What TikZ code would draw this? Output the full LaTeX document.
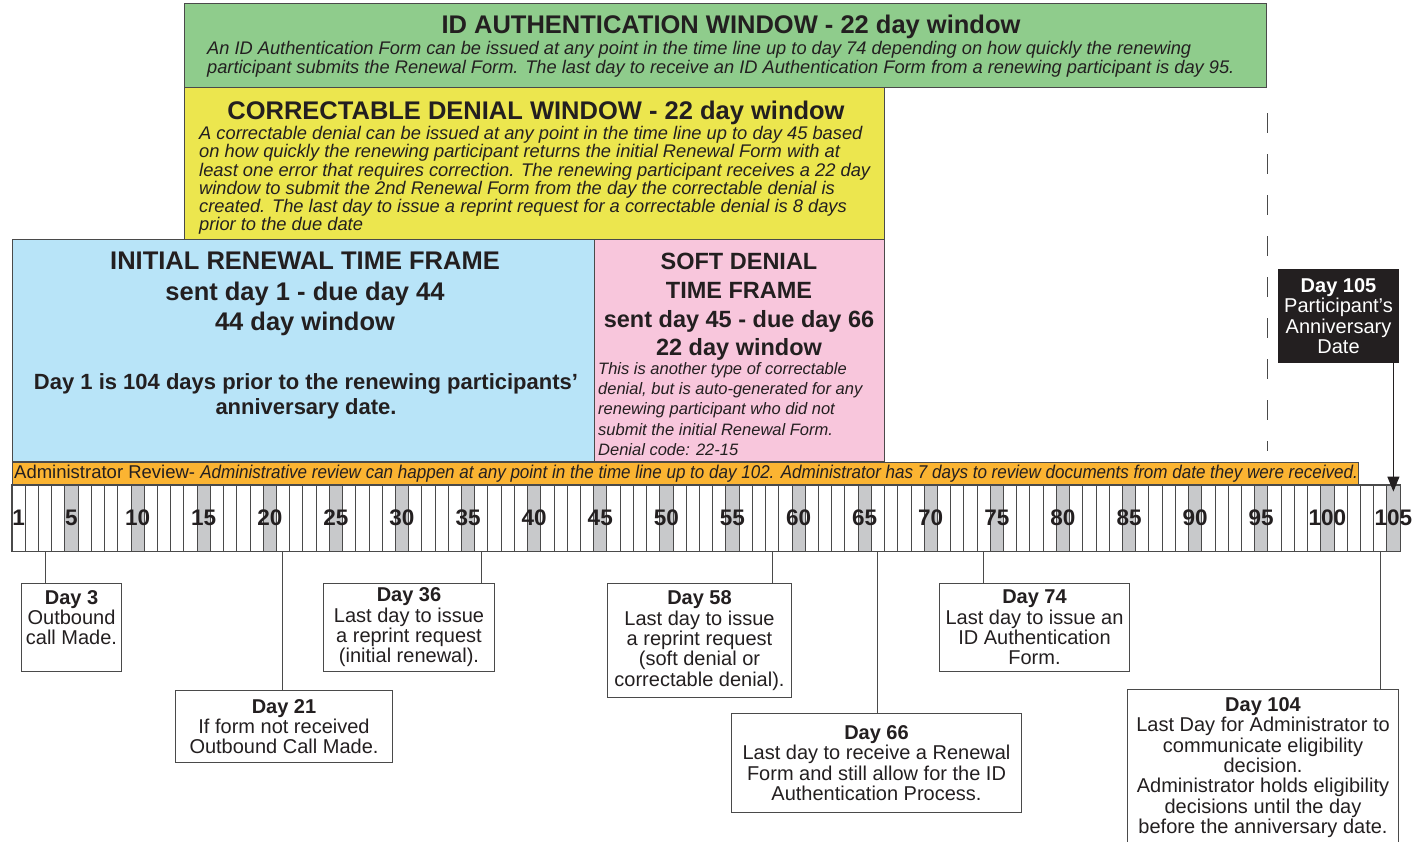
\documentclass[tikz,border=0pt]{standalone}
\usepackage{fontspec}
\usepackage{graphicx}
\setmainfont{Liberation Sans}
\usetikzlibrary{arrows.meta}
\definecolor{cAuth}{HTML}{8FCC8C}
\definecolor{cCorr}{HTML}{ECE64E}
\definecolor{cInit}{HTML}{B8E4F8}
\definecolor{cSoft}{HTML}{F8C6DC}
\definecolor{cAdmin}{HTML}{FBB432}
\definecolor{cMark}{HTML}{C8C9CB}
\definecolor{ink}{HTML}{231F20}
\definecolor{rule}{HTML}{4A4A4A}
\newcommand\fsz[2]{\fontsize{#1}{#2}\selectfont}

\begin{document}
\begin{tikzpicture}[x=1pt, y=-1pt,
  >={Triangle[width=12pt, length=15pt]},
  panel/.style={draw=rule, line width=1pt, anchor=north west, inner sep=0pt, fill=#1},
  head/.style={font=\fsz{25.5}{28}\bfseries, text=ink, inner sep=0pt},
  note/.style={anchor=west, align=left, inner sep=0pt, text=ink},
  cell/.style={draw=rule, line width=0.8pt, inner sep=0pt,
               minimum width=13.219, minimum height=66},
  daynum/.style={font=\fsz{22.5}{24}\bfseries, text=ink, inner sep=0pt},
  callout/.style={draw=rule, line width=1pt, fill=white, anchor=north west,
                  inner sep=0pt, align=center, text=ink, font=\fsz{20}{20.3}},
  link/.style={draw=rule, line width=1pt},
]
  \path[use as bounding box, fill=white] (0,0) rectangle (1412,841);

  % --- windows above the time line ---
  \node[panel=cAuth, minimum width=1082, minimum height=84] (auth) at (184,3) {};
  \node[head] (authT) at (731,26.5) {ID AUTHENTICATION WINDOW - 22 day window};
  \node[note, font=\fsz{18.25}{19}\itshape] (authB) at (207,59.5)
    {An ID Authentication Form can be issued at any point in the time line up to day 74 depending on how quickly the renewing\\
     participant submits the Renewal Form. The last day to receive an ID Authentication Form from a renewing participant is day 95.};

  \node[panel=cCorr, minimum width=700, minimum height=152] (corr) at (184,87) {};
  \node[head] (corrT) at (536,112.5) {CORRECTABLE DENIAL WINDOW - 22 day window};
  \node[note, font=\fsz{18.3}{18.2}\itshape] (corrB) at (199,180.5)
    {A correctable denial can be issued at any point in the time line up to day 45 based\\
     on how quickly the renewing participant returns the initial Renewal Form with at\\
     least one error that requires correction. The renewing participant receives a 22 day\\
     window to submit the 2nd Renewal Form from the day the correctable denial is\\
     created. The last day to issue a reprint request for a correctable denial is 8 days\\
     prior to the due date};

  \node[panel=cInit, minimum width=582, minimum height=222] (init) at (12,239) {};
  \node[align=center, inner sep=0pt, text=ink, font=\fsz{25.5}{30.5}\bfseries] (initT) at (305,294)
    {INITIAL RENEWAL TIME FRAME\\sent day 1 - due day 44\\44 day window};
  \node[align=center, inner sep=0pt, text=ink, font=\fsz{22}{25}\bfseries] (initB) at (306,396)
    {Day 1 is 104 days prior to the renewing participants'\\anniversary date.};

  \node[panel=cSoft, minimum width=290, minimum height=222] (soft) at (594,239) {};
  \node[align=center, inner sep=0pt, text=ink, font=\fsz{23.5}{28.7}\bfseries] (softT) at (739,307)
    {SOFT DENIAL\\TIME FRAME\\sent day 45 - due day 66\\22 day window};
  \node[note, font=\fsz{16.5}{20.3}\itshape] (softB) at (598,409)
    {This is another type of correctable\\denial, but is auto-generated for any\\renewing participant who did not\\submit the initial Renewal Form.\\Denial code: 22-15};

  \node[panel=cAdmin, minimum width=1346, minimum height=23] (admin) at (12,462) {};
  \node[note, font=\fsz{18.5}{20}] (adminT) at (14,474)
    {Administrator Review- \scalebox{0.92}[1]{\itshape Administrative review can happen at any point in the time line up to day 102. Administrator has 7 days to review documents from date they were received.}};

  % --- time line, one cell per day ---
  \foreach \i in {1,...,105}{
    \pgfmathtruncatemacro\m{mod(\i,5)}
    \ifnum\m=0 \def\f{cMark}\else\def\f{white}\fi
    \node[cell, fill=\f] (d\i) at ({12+(\i-0.5)*13.219},518) {};
  }
  \draw[rule, line width=1pt] (d1.north west) rectangle (d105.south east);
  \foreach \i in {1,5,10,...,105}{
    \node[daynum] (n\i) at (d\i) {\i};
  }

  % --- anniversary marker ---
  \draw[rule, line width=1pt, dash pattern=on 20pt off 21pt]
    (auth.south east) ++(0,25) -- ++(0,338);
  \node[panel=ink, draw=ink, minimum width=120, minimum height=93, align=center,
        text=white, font=\fsz{20}{20.5}] (anniv) at (1278,269)
    {\textbf{Day 105}\\Participant's\\Anniversary\\Date};
  \draw[->, ink, line width=1pt] (anniv.south -| d105) -- ([yshift=-7pt]d105.north);

  % --- call-outs below the time line ---
  \foreach \d/\px/\py/\bw/\bh/\txt in {
      3/21/583/100/88/{\textbf{Day 3}\\Outbound\\call Made.\\~},
      21/175/690/217/72/{\textbf{Day 21}\\If form not received\\Outbound Call Made.},
      36/323/583/171/88/{\textbf{Day 36}\\Last day to issue\\a reprint request\\(initial renewal).},
      58/607/583/184/114/{\textbf{Day 58}\\Last day to issue\\a reprint request\\(soft denial or\\correctable denial).},
      66/731/713/290/99/{\textbf{Day 66}\\Last day to receive a Renewal\\Form and still allow for the ID\\Authentication Process.},
      74/939/583/190/88/{\textbf{Day 74}\\Last day to issue an\\ID Authentication\\Form.},
      104/1127/689/271/156/{\textbf{Day 104}\\Last Day for Administrator to\\communicate eligibility\\decision.\\Administrator holds eligibility\\decisions until the day\\before the anniversary date.}%
  }{
    \node[callout, minimum width=\bw, minimum height=\bh] (c\d) at (\px,\py) {\txt};
    \draw[link] (d\d.south) -- (d\d.south |- c\d.north);
  }
\end{tikzpicture}
\end{document}
